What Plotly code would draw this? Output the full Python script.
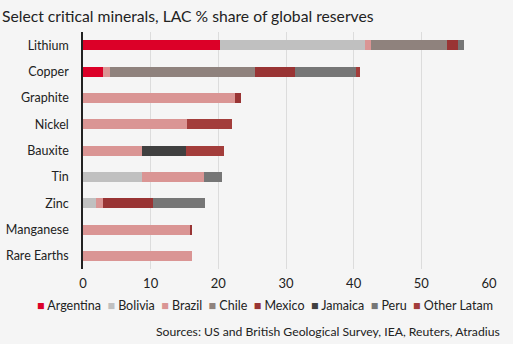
import plotly.graph_objects as go

minerals = ["Lithium", "Copper", "Graphite", "Nickel", "Bauxite", "Tin", "Zinc", "Manganese", "Rare Earths"]
argentina = [20.3, 2.9, 0, 0, 0, 0, 0, 0, 0]
bolivia = [21.4, 0, 0, 0, 0, 8.7, 1.9, 0, 0]
brazil = [0.8, 1.1, 22.4, 15.3, 8.7, 9.2, 1.0, 15.8, 16.1]
chile = [11.3, 21.4, 0, 0, 0, 0, 0, 0, 0]
mexico = [1.6, 5.9, 0.9, 0, 0, 0, 7.5, 0.3, 0]
jamaica = [0, 0, 0, 0, 6.5, 0, 0, 0, 0]
peru = [0.9, 9.1, 0, 0, 0, 2.7, 7.6, 0, 0]
other_latam = [0, 0.5, 0, 6.7, 5.7, 0, 0, 0, 0]

series = [
    ("Argentina", argentina, "#dc0028"),
    ("Bolivia", bolivia, "#c0c0c0"),
    ("Brazil", brazil, "#da9594"),
    ("Chile", chile, "#8f827d"),
    ("Mexico", mexico, "#993434"),
    ("Jamaica", jamaica, "#404040"),
    ("Peru", peru, "#767676"),
    ("Other Latam", other_latam, "#a33d3b"),
]

title_text = "Select critical minerals, LAC % share of global reserves"
source_text = "Sources: US and British Geological Survey, IEA, Reuters, Atradius"
x_ticks = [0, 10, 20, 30, 40, 50, 60]

FONT = "Lato"
fig = go.Figure()
for name, vals, col in series:
    fig.add_trace(go.Bar(
        y=minerals, x=vals, name=name, orientation="h",
        marker=dict(color=col, line=dict(width=0)), showlegend=False,
    ))

legend_html = "&nbsp;&nbsp;".join(
    f"<span style='color:{col}'>■</span> {name}" for name, _, col in series
)

fig.update_layout(
    barmode="stack",
    bargap=0.62,
    width=513, height=344,
    margin=dict(l=83, r=24, t=32, b=75, autoexpand=False),
    paper_bgcolor="#f5f5f5",
    plot_bgcolor="#f5f5f5",
    font=dict(family=FONT, size=12, color="#222222"),
    xaxis=dict(
        range=[0, 60], tickvals=x_ticks, showgrid=True, gridcolor="#dcdcdc",
        gridwidth=1, zeroline=False, showline=False, automargin=False,
        ticklabelstandoff=5,
        tickfont=dict(size=13, color="#222222"),
    ),
    yaxis=dict(
        autorange="reversed", showgrid=False, showline=True,
        linecolor="#222222", linewidth=1.5, ticks="", automargin=False,
        ticklabelstandoff=10, tickfont=dict(size=12.5, color="#222222"),
    ),
    annotations=[
        dict(text=title_text, xref="paper", yref="paper", x=-83/406, y=1,
             xanchor="left", yanchor="bottom", yshift=5, showarrow=False,
             font=dict(size=15.7, color="#222222", family=FONT)),
        dict(text=legend_html, xref="paper", yref="paper", x=0.448, y=-0.155,
             xanchor="center", yanchor="middle", showarrow=False,
             font=dict(size=12.5, color="#222222", family=FONT)),
        dict(text=source_text, xref="paper", yref="paper", x=1.032, y=-0.265,
             xanchor="right", yanchor="middle", showarrow=False,
             font=dict(size=12.2, color="#222222", family=FONT)),
    ],
)

fig.write_html("out.html")
